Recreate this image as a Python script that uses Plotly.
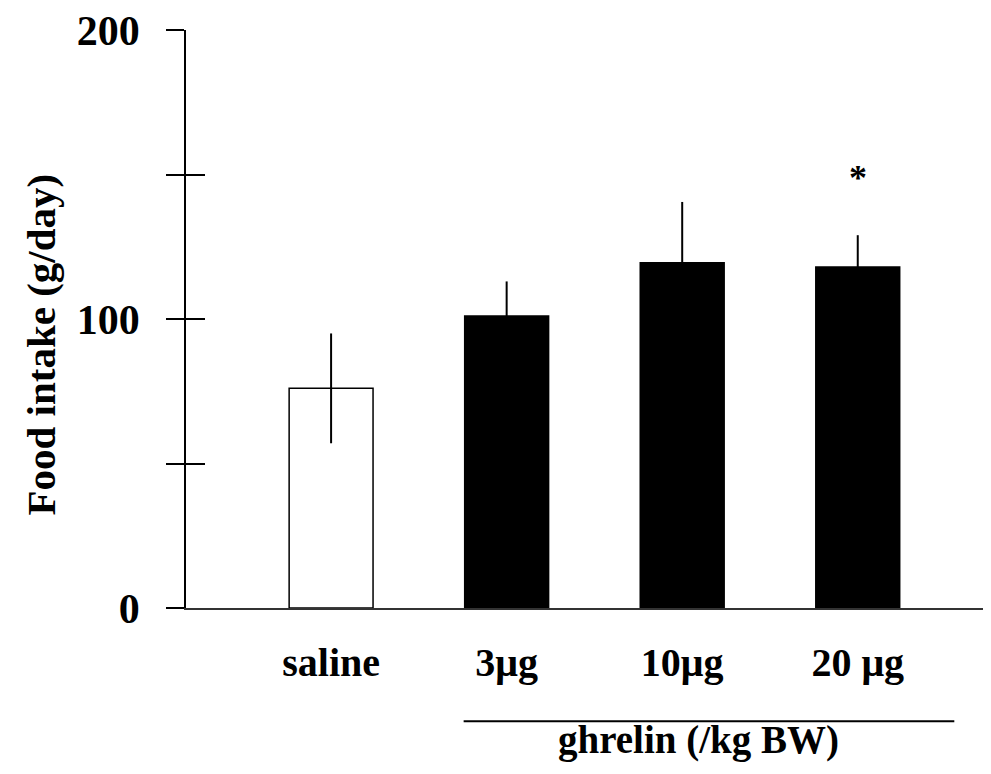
import plotly.graph_objects as go

# ---- data ----
groups = ["saline", "3μg", "10μg", "20 μg"]
food_intake = [76, 101, 119.5, 118]
sem = [19, 12, 21, 11]
y_tick_vals = [0, 50, 100, 150, 200]
y_tick_text = ["0", "", "100", "", "200"]
significant = [False, False, False, True]

FONT = "Liberation Serif, Times New Roman, serif"
fill_colors = ["white" if g == "saline" else "black" for g in groups]

fig = go.Figure()
fig.add_trace(go.Bar(
    x=groups, y=food_intake,
    marker=dict(color=fill_colors, line=dict(color="black", width=1.5)),
    width=0.478,
    error_y=dict(type="data", array=sem, color="black", thickness=2, width=0),
    showlegend=False,
))
# invisible trace for the secondary (inside-tick) axis
fig.add_trace(go.Scatter(x=[groups[0]], y=[0], yaxis="y2", mode="markers",
                         marker=dict(opacity=0), showlegend=False, hoverinfo="skip"))

for g, v, e, s in zip(groups, food_intake, sem, significant):
    if s:
        fig.add_annotation(x=g, y=v + e, yshift=57, text="<b>*</b>", showarrow=False,
                           font=dict(family=FONT, size=36, color="black"))

# page body has an 8px margin; the figure is sized/shifted to compensate
fig.update_layout(
    width=983, height=766,
    margin=dict(l=178, r=0, t=19, b=166),
    paper_bgcolor="white", plot_bgcolor="white",
    xaxis=dict(
        type="category", range=[-0.8265, 3.759],
        showline=True, linecolor="#333", linewidth=1.5,
        showgrid=False, zeroline=False, ticks="",
        tickfont=dict(family=FONT, size=40, color="black"),
        ticklabelstandoff=18,
    ),
    yaxis=dict(
        range=[0, 200], tickvals=y_tick_vals,
        ticktext=[f"<b>{t}</b>" if t else "" for t in y_tick_text],
        showline=True, linecolor="black", linewidth=1.5,
        ticks="outside", ticklen=18, tickwidth=2, tickcolor="black",
        showgrid=False, zeroline=False,
        tickfont=dict(family=FONT, size=42, color="black"),
        ticklabelstandoff=18, ticklabeloverflow="allow",
    ),
    yaxis2=dict(
        range=[0, 200], overlaying="y", side="left", tickvals=y_tick_vals,
        showticklabels=False, ticks="inside", ticklen=19, tickwidth=2, tickcolor="black",
        showgrid=False, zeroline=False, showline=False,
    ),
)

# bold category labels
fig.update_xaxes(ticktext=[f"<b>{g}</b>" for g in groups], tickvals=groups)

# y-axis title
fig.add_annotation(xref="paper", yref="paper", x=-0.180, y=0.456, xanchor="center", yanchor="middle",
                   textangle=-90, text="<b>Food intake (g/day)</b>", showarrow=False,
                   font=dict(family=FONT, size=41, color="black"))

# ghrelin bracket line and label
fig.add_shape(type="line", xref="x", yref="paper", x0=0.755, x1=3.55, y0=-0.196, y1=-0.196,
              line=dict(color="black", width=2))
fig.add_annotation(xref="x", yref="paper", x=2.09, y=-0.228, xanchor="center", yanchor="middle",
                   text="<b>ghrelin (/kg BW)</b>", showarrow=False,
                   font=dict(family=FONT, size=39, color="black"))

fig.write_html("out.html")
